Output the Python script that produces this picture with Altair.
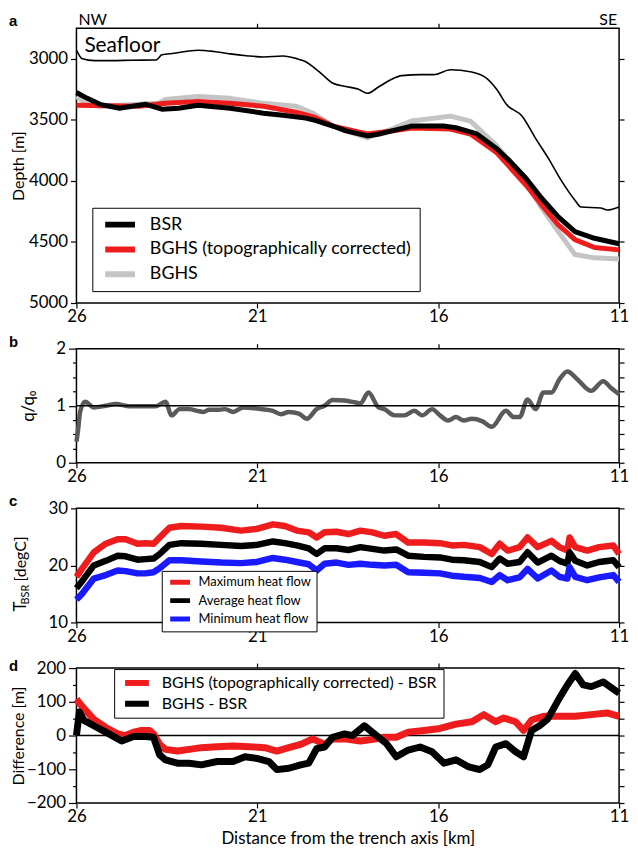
import altair as alt
import pandas as pd

FONT = "Lato"
W = 547
HA, HB, HC, HD = 277, 115, 115, 136
GAP = 46

# ---------------- panel a: depths [m] vs distance [km] ----------------
sea_km = [26.00, 25.84, 25.50, 25.00, 24.50, 23.80, 23.64, 23.30, 22.64, 22.20, 21.75, 21.30, 20.83, 20.29,
          19.90, 19.66, 19.40, 19.20, 18.91, 18.55, 18.20, 17.96, 17.63, 17.30, 17.01, 16.47, 16.12, 15.66,
          15.11, 14.65, 14.38, 14.11, 13.68, 13.30, 12.95, 12.60, 12.22, 12.05, 11.51, 11.32, 11.00]
sea_depth = [2930, 3000, 3015, 3015, 3012, 3010, 2968, 2955, 2930, 2940, 2960, 2975, 2985, 2977,
             3000, 3025, 3080, 3130, 3200, 3227, 3250, 3283, 3227, 3170, 3138, 3130, 3130, 3090,
             3106, 3162, 3252, 3375, 3470, 3656, 3818, 3996, 4158, 4214, 4222, 4239, 4214]

bsr_km = [26.00, 25.70, 25.35, 24.81, 24.46, 24.08, 23.64, 23.18, 22.64, 21.75, 20.83, 20.29, 19.66, 19.40,
          18.91, 18.55, 17.96, 17.63, 17.28, 16.74, 15.85, 15.47, 14.93, 14.38, 14.03, 13.57, 13.14, 12.68,
          12.22, 11.68, 11.00]
bsr_depth = [3276, 3324, 3373, 3405, 3389, 3373, 3413, 3405, 3381, 3405, 3446, 3462, 3486, 3505,
             3551, 3591, 3632, 3616, 3591, 3551, 3551, 3567, 3616, 3737, 3834, 3980, 4142, 4295,
             4416, 4470, 4515]

bghsc_km = [26.00, 24.27, 23.54, 22.64, 21.75, 20.83, 19.93, 19.40, 18.91, 17.96, 17.28, 16.74, 15.66,
            15.11, 14.38, 13.57, 13.14, 12.68, 12.22, 11.68, 11.00]
bghsc_depth = [3381, 3389, 3365, 3349, 3365, 3389, 3438, 3480, 3551, 3616, 3591, 3567, 3575,
               3616, 3770, 4036, 4198, 4360, 4481, 4546, 4565]

bghs_km = [26.00, 25.70, 25.35, 23.73, 23.54, 22.64, 21.75, 20.83, 19.93, 19.45, 18.91, 17.96, 17.28,
           16.74, 15.66, 15.11, 14.38, 13.57, 13.14, 12.68, 12.22, 11.68, 11.00]
bghs_depth = [3308, 3373, 3389, 3365, 3333, 3308, 3324, 3365, 3389, 3446, 3551, 3648, 3575,
              3510, 3470, 3510, 3713, 4012, 4222, 4416, 4603, 4630, 4640]

# ---------------- panel b: q/q0 ----------------
q_km = [26.00, 25.95, 25.90, 25.76, 25.52, 25.19, 24.91, 24.53, 24.20, 23.81, 23.54, 23.37, 23.15, 22.88,
        22.66, 22.49, 22.33, 22.05, 21.89, 21.67, 21.39, 21.01, 20.57, 20.35, 20.13, 19.85, 19.63, 19.36,
        19.14, 18.92, 18.59, 18.31, 18.15, 17.93, 17.65, 17.49, 17.21, 16.94, 16.66, 16.44, 16.17, 15.95,
        15.73, 15.51, 15.29, 15.07, 14.79, 14.52, 14.13, 13.91, 13.75, 13.53, 13.31, 13.09, 12.87, 12.65,
        12.43, 12.15, 11.77, 11.44, 11.22, 11.00]
q_val = [0.37, 0.60, 0.89, 1.07, 0.97, 1.00, 1.03, 0.99, 0.99, 0.99, 1.07, 0.83, 0.94, 0.94,
         0.91, 0.89, 0.93, 0.93, 0.94, 0.89, 0.97, 0.95, 0.91, 0.85, 0.89, 0.86, 0.77, 0.94,
         1.00, 1.10, 1.09, 1.06, 1.04, 1.23, 0.97, 0.94, 0.83, 0.83, 0.91, 0.83, 0.94, 0.83,
         0.74, 0.80, 0.74, 0.77, 0.73, 0.63, 0.91, 0.80, 0.80, 1.11, 0.94, 1.23, 1.23, 1.46,
         1.60, 1.46, 1.26, 1.43, 1.31, 1.20]

# ---------------- panel c: T_BSR [degC] ----------------
t_km = [26.00, 25.85, 25.52, 25.19, 24.86, 24.64, 24.31, 24.09, 23.87, 23.70, 23.43, 23.10, 22.55, 22.00,
        21.45, 21.01, 20.57, 20.24, 19.91, 19.58, 19.36, 19.14, 18.81, 18.48, 18.15, 17.82, 17.49, 17.16,
        16.83, 16.39, 15.95, 15.62, 15.29, 14.85, 14.52, 14.30, 14.08, 13.75, 13.53, 13.25, 12.87, 12.65,
        12.43, 12.37, 12.21, 11.88, 11.55, 11.16, 11.00]
t_max = [18.0, 19.4, 22.3, 23.8, 24.6, 24.6, 23.8, 23.9, 23.8, 24.9, 26.6, 26.9, 26.8, 26.6,
         26.1, 26.4, 27.2, 26.9, 26.1, 25.8, 24.9, 25.8, 25.9, 25.5, 26.1, 25.8, 25.2, 25.5,
         24.0, 24.0, 23.9, 23.5, 23.6, 23.2, 22.0, 23.8, 22.6, 23.2, 24.9, 23.2, 24.3, 23.2,
         22.6, 24.9, 23.2, 22.6, 23.2, 23.5, 22.0]
t_avg = [16.0, 17.2, 20.0, 20.8, 21.7, 21.6, 21.0, 21.1, 21.2, 22.0, 23.6, 23.9, 23.8, 23.6,
         23.4, 23.6, 24.2, 23.9, 23.5, 23.0, 22.0, 23.0, 23.0, 22.7, 23.2, 22.9, 22.6, 22.8,
         21.7, 21.5, 21.4, 21.0, 20.9, 20.6, 19.7, 21.2, 20.3, 20.6, 22.3, 20.5, 21.7, 20.8,
         20.3, 22.3, 20.8, 20.0, 20.6, 20.9, 19.7]
t_min = [14.0, 15.0, 17.7, 18.3, 19.1, 19.0, 18.6, 18.6, 18.8, 19.5, 20.9, 20.9, 20.7, 20.5,
         20.4, 20.6, 21.3, 21.0, 20.6, 20.2, 19.1, 20.3, 20.5, 20.1, 20.3, 20.1, 20.0, 20.1,
         18.8, 18.7, 18.6, 18.2, 18.0, 17.8, 17.1, 18.3, 17.4, 17.9, 19.4, 17.7, 19.1, 18.0,
         17.7, 19.7, 18.0, 17.4, 17.9, 18.3, 17.1]

# ---------------- panel d: differences [m] ----------------
dred_km = [26.00, 25.85, 25.52, 25.19, 24.86, 24.64, 24.42, 24.20, 23.98, 23.87, 23.70, 23.54, 23.21, 22.88,
           22.55, 22.11, 21.67, 21.23, 20.79, 20.46, 20.13, 19.80, 19.47, 19.14, 18.92, 18.59, 18.15, 17.71,
           17.49, 17.16, 16.83, 16.39, 15.95, 15.51, 15.07, 14.74, 14.41, 14.19, 13.86, 13.64, 13.42, 13.09,
           12.65, 12.21, 11.77, 11.33, 11.00]
dred = [108, 87, 48, 24, 5, 0, 10, 15, 15, 5, -26, -41, -46, -41,
        -36, -33, -31, -33, -36, -46, -36, -26, -10, -26, -10, -10, -16, -10,
        -5, -5, 10, 15, 21, 34, 41, 62, 41, 52, 41, 15, 46, 57,
        57, 57, 62, 67, 57]
dblk_km = [26.00, 25.92, 25.79, 25.52, 25.19, 24.75, 24.42, 24.09, 23.87, 23.70, 23.54, 23.21, 22.88, 22.55,
           22.11, 21.67, 21.34, 21.01, 20.68, 20.46, 20.13, 19.80, 19.58, 19.36, 19.14, 18.92, 18.59, 18.37,
           18.04, 17.71, 17.43, 17.16, 16.83, 16.50, 16.17, 15.84, 15.51, 15.18, 14.85, 14.63, 14.41, 14.13,
           13.86, 13.64, 13.42, 13.20, 12.98, 12.65, 12.43, 12.21, 11.99, 11.77, 11.44, 11.00]
dblk = [0, 70, 45, 29, 10, -16, -3, -3, -5, -57, -72, -82, -82, -87,
        -77, -77, -63, -68, -77, -101, -97, -87, -82, -39, -34, -5, 5, 0,
        29, 0, -24, -63, -43, -34, -48, -82, -72, -92, -101, -87, -34, -24,
        -48, -63, 15, 29, 48, 111, 150, 184, 150, 145, 159, 126]

X_TICKS = [26, 21, 16, 11]
A_NAMES = ["BSR", "BGHS (topographically corrected)", "BGHS"]
C_NAMES = ["Maximum heat flow", "Average heat flow", "Minimum heat flow"]
D_NAMES = ["BGHS (topographically corrected) - BSR", "BGHS - BSR"]

RED = "#ee1c1c"
BLUE = "#1a1aff"
GRAY = "#c4c4c4"

XSCALE = alt.Scale(domain=[11, 26], reverse=True, nice=False, zero=False)


def df(km, v, s):
    return pd.DataFrame({"km": km, "v": v, "s": s})


def x_bottom(title=None):
    kw = dict(orient="bottom", values=X_TICKS, tickSize=5, labelPadding=1, labelFontSize=17,
              labelFlush=False, labelOverlap=False, domain=False, grid=False, format="d",
              minExtent=0)
    if title:
        kw.update(title=title, titleFontSize=17, titleFontWeight="normal", titlePadding=6)
    else:
        kw.update(title=None)
    return alt.Axis(**kw)


X_TOP = alt.Axis(orient="top", values=[21, 16], labels=False, tickSize=5, domain=False, grid=False,
                 title=None, minExtent=0, maxExtent=5)


def y_left(values, tick, title=None, tx=0, ty=0, size=16, fmt="d"):
    kw = dict(orient="left", values=values, tickSize=tick, labelPadding=3, labelFontSize=17,
              labelOverlap=False, domain=False, grid=False, format=fmt, minExtent=0)
    if title:
        kw.update(title=title, titleFontSize=size, titleFontWeight="normal", titleX=tx, titleY=ty,
                  titleAngle=270, titleBaseline="middle", titleAlign="center")
    else:
        kw.update(title=None)
    return alt.Axis(**kw)


def y_plain(orient, values, tick):
    return alt.Axis(orient=orient, values=values, tickSize=tick, labels=False, domain=False,
                    grid=False, title=None, minExtent=0)


def txt(s, x, y, size, align="left", baseline="alphabetic", weight="normal", font=FONT, angle=0):
    return alt.Chart(pd.DataFrame({"t": [s]})).mark_text(
        align=align, baseline=baseline, fontSize=size, fontWeight=weight, font=font,
        angle=angle, color="black").encode(x=alt.value(x), y=alt.value(y), text="t:N")


def legend(x, y, pad, sym, sw, fs, clip, rowpad, off, soff):
    return alt.Legend(orient="none", legendX=x, legendY=y, title=None, strokeColor="black",
                      fillColor="white", padding=pad, symbolType="stroke", symbolSize=sym,
                      symbolStrokeWidth=sw, labelFontSize=fs, labelFont=FONT, labelColor="black",
                      labelLimit=600, clipHeight=clip, rowPadding=rowpad, labelOffset=off,
                      symbolOffset=soff, direction="vertical")


def letter(s, y=-2):
    return txt(s, -68, y, 15, weight="bold", font="Liberation Sans")


# ---------------- panel a ----------------
A_SC = alt.Scale(domain=[2750, 5000], reverse=True, nice=False, zero=False)
A_VALS = [3000, 3500, 4000, 4500, 5000]
a_col = alt.Scale(domain=A_NAMES, range=["#000000", RED, GRAY])
a_leg = legend(16, 181, 8, 900, 6, 18, 18, 7, 12, 2)

sea = alt.Chart(df(sea_km, sea_depth, "Seafloor")).mark_line(
    color="black", strokeWidth=1.6, interpolate="monotone").encode(
    x=alt.X("km:Q", scale=XSCALE, axis=x_bottom()),
    y=alt.Y("v:Q", scale=A_SC, axis=y_left(A_VALS, 6, "Depth [m]", -58, HA / 2)))


def a_line(km, v, name, x_axis, y_axis):
    return alt.Chart(df(km, v, name)).mark_line(strokeWidth=5, strokeJoin="round").encode(
        x=alt.X("km:Q", scale=XSCALE, axis=x_axis),
        y=alt.Y("v:Q", scale=A_SC, axis=y_axis),
        color=alt.Color("s:N", scale=a_col, legend=a_leg))


a_gray = a_line(bghs_km, bghs_depth, A_NAMES[2], X_TOP, y_plain("right", A_VALS, 5))
a_red = a_line(bghsc_km, bghsc_depth, A_NAMES[1], None, None)
a_blk = a_line(bsr_km, bsr_depth, A_NAMES[0], None, None)

pa = alt.layer(
    sea, a_gray, a_red, a_blk,
    letter("a"),
    txt("NW", 2, -3, 16),
    txt("SE", W - 2, -3, 16, align="right"),
    txt("Seafloor", 8, 24, 21),
).resolve_axis(x="independent", y="independent").properties(width=W, height=HA)

# ---------------- panel b ----------------
B_SC = alt.Scale(domain=[0, 2], nice=False, zero=False)
B_ALL = [0, 0.25, 0.5, 0.75, 1, 1.25, 1.5, 1.75, 2]
B_MINOR = [0.25, 0.5, 0.75, 1.25, 1.5, 1.75]
dq = df(q_km, q_val, "q")

b_line = alt.Chart(dq).mark_line(color="#5a5a5a", strokeWidth=4.5, interpolate="monotone").encode(
    x=alt.X("km:Q", scale=XSCALE, axis=x_bottom()),
    y=alt.Y("v:Q", scale=B_SC, axis=y_left([0, 1, 2], 8, "q/q₀", -48, HB / 2, 17, ".0f")))
b_host = alt.Chart(dq).mark_point(opacity=0).encode(
    x=alt.X("km:Q", scale=XSCALE, axis=X_TOP),
    y=alt.Y("v:Q", scale=B_SC, axis=y_plain("right", B_ALL, 5)))
b_rule = alt.Chart(pd.DataFrame({"v": [1]})).mark_rule(color="black", strokeWidth=1.5).encode(
    y=alt.Y("v:Q", scale=B_SC, axis=y_plain("left", B_MINOR, 4)))

pb = alt.layer(b_line, b_host, b_rule, letter("b")).resolve_axis(
    x="independent", y="independent").properties(width=W, height=HB)

# ---------------- panel c ----------------
C_SC = alt.Scale(domain=[10, 30], nice=False, zero=False)
C_VALS = [10, 20, 30]
c_col = alt.Scale(domain=C_NAMES, range=[RED, "#000000", BLUE])
c_leg = legend(86, 63, 5, 400, 5, 13, 13, 4.5, 6, 1)


def c_line(v, name, x_axis, y_axis):
    return alt.Chart(df(t_km, v, name)).mark_line(strokeWidth=6.5, strokeJoin="round").encode(
        x=alt.X("km:Q", scale=XSCALE, axis=x_axis),
        y=alt.Y("v:Q", scale=C_SC, axis=y_axis),
        color=alt.Color("s:N", scale=c_col, legend=c_leg))


pc = alt.layer(
    c_line(t_max, C_NAMES[0], x_bottom(), y_left(C_VALS, 6)),
    c_line(t_avg, C_NAMES[1], X_TOP, y_plain("right", C_VALS, 5)),
    c_line(t_min, C_NAMES[2], None, None),
    letter("c"),
    txt("T", -56, 99, 17, align="center", baseline="middle", angle=270),
    txt("BSR", -51, 87, 11, align="center", baseline="middle", angle=270),
    txt("[degC]", -56, 51, 16, align="center", baseline="middle", angle=270),
).resolve_axis(x="independent", y="independent").properties(width=W, height=HC)

# ---------------- panel d ----------------
D_SC = alt.Scale(domain=[-200, 200], nice=False, zero=False)
d_col = alt.Scale(domain=D_NAMES, range=[RED, "#000000"])
d_leg = legend(38, 1, 6, 576, 6, 16, 16, 5, 10, 2)

d_rule = alt.Chart(pd.DataFrame({"v": [0]})).mark_rule(color="black", strokeWidth=1.5).encode(
    y=alt.Y("v:Q", scale=D_SC, axis=y_plain("right", [-200, -150, -100, -50, 0, 50, 100, 150, 200], 5)))
d_red = alt.Chart(df(dred_km, dred, D_NAMES[0])).mark_line(strokeWidth=7, strokeJoin="round").encode(
    x=alt.X("km:Q", scale=XSCALE, axis=x_bottom("Distance from the trench axis [km]")),
    y=alt.Y("v:Q", scale=D_SC, axis=y_left([-200, -100, 0, 100, 200], 8, "Difference [m]", -58, HD / 2)),
    color=alt.Color("s:N", scale=d_col, legend=d_leg))
d_blk = alt.Chart(df(dblk_km, dblk, D_NAMES[1])).mark_line(strokeWidth=7, strokeJoin="round").encode(
    x=alt.X("km:Q", scale=XSCALE, axis=X_TOP),
    y=alt.Y("v:Q", scale=D_SC, axis=y_plain("left", [-150, -50, 50, 150], 4)),
    color=alt.Color("s:N", scale=d_col, legend=d_leg))

pd_ = alt.layer(d_rule, d_red, d_blk, letter("d", 3)).resolve_axis(
    x="independent", y="independent").properties(width=W, height=HD)

chart = alt.vconcat(pa, pb, pc, pd_, spacing=GAP, bounds="flush").resolve_scale(
    color="independent").properties(
    padding={"left": 0, "top": 0, "right": 0, "bottom": 0}
).configure_view(stroke="black", strokeWidth=1.5).configure_axis(
    labelFont=FONT, titleFont=FONT, labelColor="black", titleColor="black",
    tickColor="black", tickWidth=1.2)

chart.save("out.html", embed_options={"renderer": "svg", "actions": False})
